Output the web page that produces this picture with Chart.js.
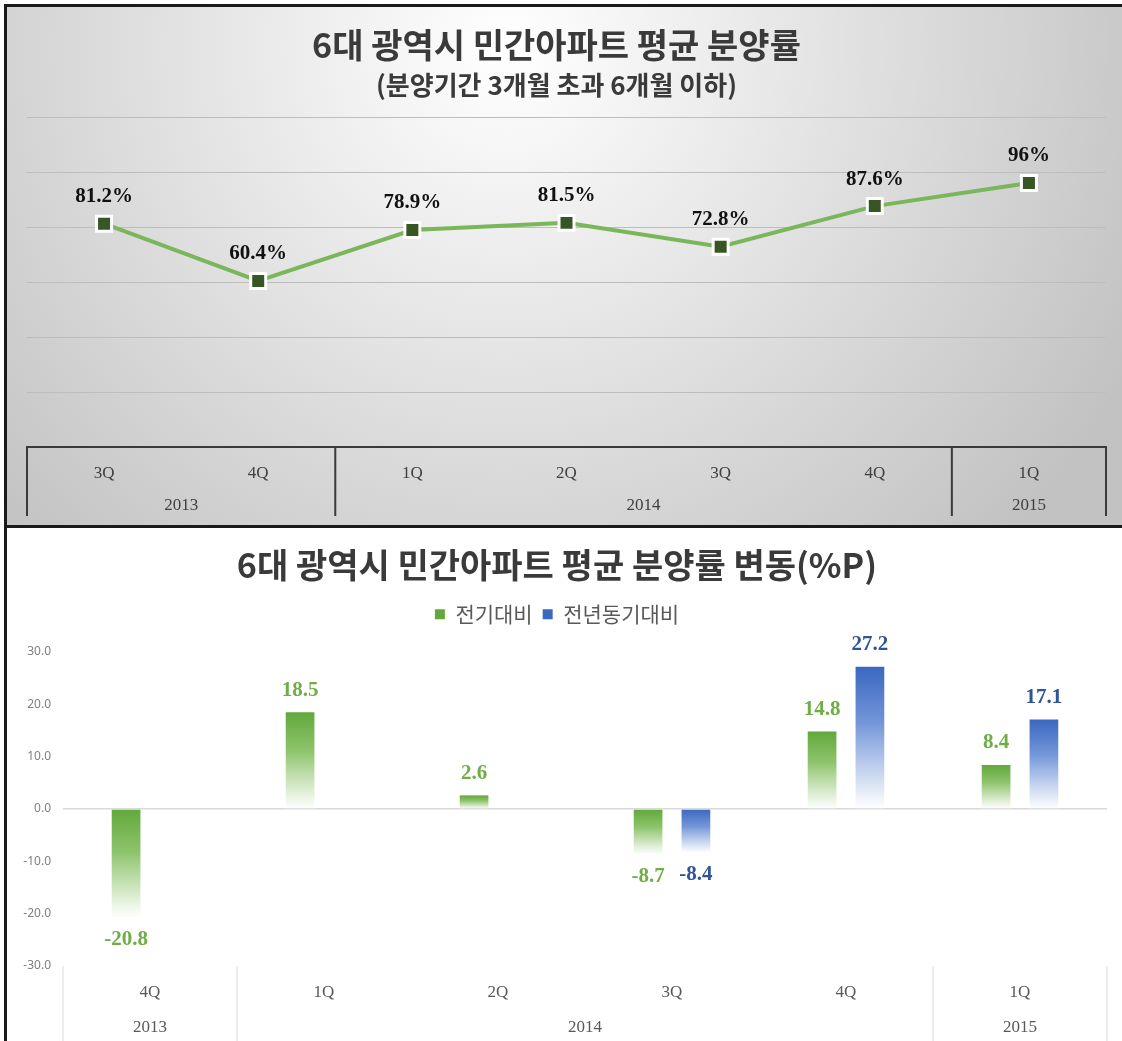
<!DOCTYPE html>
<html>
<head>
<meta charset="utf-8">
<script src="https://cdn.jsdelivr.net/npm/chart.js@4/dist/chart.umd.min.js"></script>
<style>
  body { margin: 0; background: #fff; width: 1122px; height: 1041px; position: relative; overflow: hidden; }
  #top { position: absolute; left: 4px; top: 4px; width: 1118px; height: 524px; border: 3px solid #1a1a1a; border-right: none; box-sizing: border-box; }
  #bottom { position: absolute; left: 4px; top: 528px; width: 1118px; height: 513px; border-left: 3px solid #1a1a1a; box-sizing: border-box; }
  canvas { display: block; }
</style>
</head>
<body>
<div id="top"><canvas id="rateChart" width="1115" height="518"></canvas></div>
<div id="bottom"><canvas id="changeChart" width="1115" height="513"></canvas></div>
<script>
// top chart data
const rateQuarters = ['3Q', '4Q', '1Q', '2Q', '3Q', '4Q', '1Q'];
const rateYears = ['2013', '2013', '2014', '2014', '2014', '2014', '2015'];
const rateValues = [81.2, 60.4, 78.9, 81.5, 72.8, 87.6, 96];

// bottom chart data
const changeQuarters = ['4Q', '1Q', '2Q', '3Q', '4Q', '1Q'];
const changeYears = ['2013', '2014', '2014', '2014', '2014', '2015'];
const prevQuarterValues = [-20.8, 18.5, 2.6, -8.7, 14.8, 8.4];
const prevYearValues = [null, null, null, -8.4, 27.2, 17.1];

const KR = "'Noto Sans CJK KR', 'Noto Sans', sans-serif";
const SERIF = "'Liberation Serif', 'Times New Roman', serif";

// year row + separators under the category axis
const yearGroups = {
  id: 'yearGroups',
  afterDraw(chart, args, opts) {
    const { ctx, chartArea, scales: { x } } = chart;
    const half = (x.getPixelForValue(1) - x.getPixelForValue(0)) / 2;
    const groups = [];
    opts.years.forEach((y, i) => {
      const g = groups[groups.length - 1];
      if (g && g.year === y) g.end = i;
      else groups.push({ year: y, start: i, end: i });
    });
    ctx.save();
    ctx.strokeStyle = opts.lineColor;
    ctx.lineWidth = opts.lineWidth;
    ctx.fillStyle = opts.textColor;
    ctx.font = '17px ' + SERIF;
    ctx.textAlign = 'center';
    ctx.textBaseline = 'middle';
    const vline = (px) => {
      ctx.beginPath();
      ctx.moveTo(px, chartArea.bottom);
      ctx.lineTo(px, opts.lineBottom);
      ctx.stroke();
    };
    groups.forEach((g, k) => {
      const l = x.getPixelForValue(g.start) - half;
      const r = x.getPixelForValue(g.end) + half;
      if (k === 0) vline(l);
      vline(r);
      ctx.fillText(g.year, (l + r) / 2, opts.textY);
    });
    ctx.restore();
  }
};

const greyBackground = {
  id: 'greyBackground',
  beforeDraw(chart) {
    const { ctx, width, height } = chart;
    const g = ctx.createRadialGradient(500, 40, 0, 500, 40, 700);
    g.addColorStop(0, '#ffffff');
    g.addColorStop(1, '#c2c2c2');
    ctx.save();
    ctx.fillStyle = g;
    ctx.fillRect(0, 0, width, height);
    ctx.restore();
  }
};

const pointLabels = {
  id: 'pointLabels',
  afterDatasetsDraw(chart) {
    const { ctx } = chart;
    const meta = chart.getDatasetMeta(0);
    ctx.save();
    ctx.font = 'bold 21px ' + SERIF;
    ctx.fillStyle = '#111';
    ctx.textAlign = 'center';
    ctx.textBaseline = 'middle';
    meta.data.forEach((pt, i) => {
      ctx.fillText(rateValues[i] + '%', pt.x, pt.y - 27);
    });
    ctx.restore();
  }
};

new Chart(document.getElementById('rateChart'), {
  type: 'line',
  data: {
    labels: rateQuarters,
    datasets: [{
      data: rateValues,
      borderColor: '#7AB65A',
      borderWidth: 4,
      pointStyle: 'rect',
      pointRadius: 10.6,
      pointBackgroundColor: '#375623',
      pointBorderColor: '#ffffff',
      pointBorderWidth: 3,
      tension: 0
    }]
  },
  options: {
    responsive: false,
    animation: false,
    layout: { padding: { right: 16 } },
    plugins: {
      legend: { display: false },
      tooltip: { enabled: false },
      title: {
        display: true,
        text: '6대 광역시 민간아파트 평균 분양률',
        color: '#3a3a3a',
        font: { family: KR, size: 34, weight: 'bold' },
        padding: { top: 18, bottom: 0 }
      },
      subtitle: {
        display: true,
        text: '(분양기간 3개월 초과 6개월 이하)',
        color: '#3a3a3a',
        font: { family: KR, size: 26, weight: 'bold' },
        padding: { top: 4, bottom: 16 }
      },
      yearGroups: { years: rateYears, lineColor: '#3a3a3a', lineWidth: 2, textColor: '#404040', textY: 499, lineBottom: 509 }
    },
    scales: {
      x: {
        offset: true,
        grid: { display: false },
        border: { display: true, color: '#3a3a3a', width: 2 },
        ticks: { color: '#404040', font: { family: SERIF, size: 17 }, padding: 8, maxRotation: 0 },
        afterFit(s) { s.height = 78; }
      },
      y: {
        min: 0,
        max: 120,
        ticks: { display: false, stepSize: 20 },
        grid: { color: '#bdbdbd', lineWidth: 1, drawTicks: false },
        border: { display: false },
        afterFit(s) { s.width = 20; }
      }
    }
  },
  plugins: [greyBackground, pointLabels, yearGroups]
});

// vertical fade per bar: solid at top, white at bottom
function barFill(solid, mid) {
  return (c) => {
    const chart = c.chart;
    if (!chart.chartArea || c.raw == null) return solid;
    const y = chart.scales.y;
    const yv = y.getPixelForValue(c.raw);
    const y0 = y.getPixelForValue(0);
    const top = Math.min(yv, y0);
    const bot = Math.max(yv, y0);
    const g = chart.ctx.createLinearGradient(0, top, 0, bot);
    g.addColorStop(0, solid);
    g.addColorStop(0.4, mid);
    g.addColorStop(1, 'rgba(255,255,255,0.9)');
    return g;
  };
}

const barLabels = {
  id: 'barLabels',
  afterDatasetsDraw(chart) {
    const { ctx } = chart;
    ctx.save();
    ctx.font = 'bold 21px ' + SERIF;
    ctx.textAlign = 'center';
    ctx.textBaseline = 'middle';
    chart.data.datasets.forEach((ds, di) => {
      const meta = chart.getDatasetMeta(di);
      ctx.fillStyle = ds.labelColor;
      meta.data.forEach((bar, i) => {
        const v = ds.data[i];
        if (v == null) return;
        ctx.fillText(v.toFixed(1), bar.x, v >= 0 ? bar.y - 22 : bar.y + 22);
      });
    });
    ctx.restore();
  }
};

new Chart(document.getElementById('changeChart'), {
  type: 'bar',
  data: {
    labels: changeQuarters,
    datasets: [
      {
        label: '전기대비',
        data: prevQuarterValues,
        backgroundColor: barFill('#62A83C', '#8EC46C'),
        labelColor: '#70AD47',
        categoryPercentage: 0.55,
        barPercentage: 0.6
      },
      {
        label: '전년동기대비',
        data: prevYearValues,
        backgroundColor: barFill('#3A67C0', '#7597D8'),
        labelColor: '#2F5597',
        categoryPercentage: 0.55,
        barPercentage: 0.6
      }
    ]
  },
  options: {
    responsive: false,
    animation: false,
    layout: { padding: { right: 15 } },
    plugins: {
      tooltip: { enabled: false },
      title: {
        display: true,
        text: '6대 광역시 민간아파트 평균 분양률 변동(%P)',
        color: '#3a3a3a',
        font: { family: KR, size: 34, weight: 'bold' },
        padding: { top: 17, bottom: 8 }
      },
      legend: {
        display: true,
        labels: {
          color: '#595959',
          font: { family: KR, size: 21 },
          boxWidth: 10,
          boxHeight: 10,
          padding: 10
        }
      },
      // spacer between legend and plot
      subtitle: {
        display: true,
        text: '',
        weight: 500,
        font: { size: 1 },
        padding: { top: 16, bottom: 0 }
      },
      yearGroups: { years: changeYears, lineColor: '#d9d9d9', lineWidth: 1, textColor: '#595959', textY: 500, lineBottom: 513 }
    },
    scales: {
      x: {
        grid: { display: false },
        border: { display: false },
        ticks: { color: '#595959', font: { family: SERIF, size: 17 }, padding: 8, maxRotation: 0 },
        afterFit(s) { s.height = 75; }
      },
      y: {
        min: -30,
        max: 30,
        ticks: {
          stepSize: 10,
          color: '#808080',
          font: { family: "'Noto Sans', sans-serif", size: 12 },
          padding: 12,
          callback: (v) => v.toFixed(1)
        },
        grid: {
          color: (c) => (c.tick && c.tick.value === 0 ? '#d9d9d9' : 'rgba(0,0,0,0)'),
          lineWidth: 1.5,
          drawTicks: false
        },
        border: { display: false },
        afterFit(s) { s.width = 56; }
      }
    }
  },
  plugins: [barLabels, yearGroups]
});
</script>
</body>
</html>
